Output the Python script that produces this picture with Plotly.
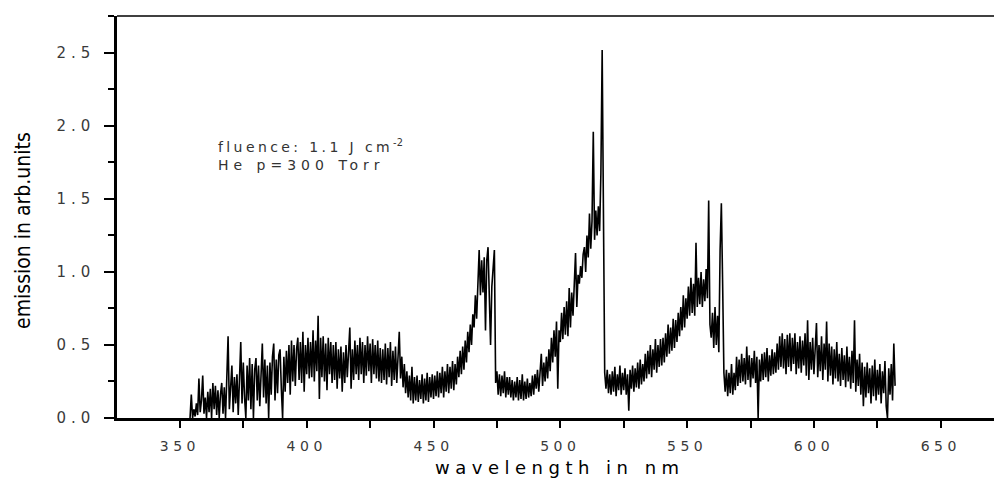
import numpy as np
import plotly.graph_objects as go

# ---- data (0.5 nm sampling, 354 .. 632 nm) ----
wavelength = list(np.round(np.arange(354.0, 632.01, 0.5), 1))
emission = [
    # 354.0 - 359.5
    0.00, 0.16, 0.00, 0.06, 0.01, 0.10, 0.02, 0.27, 0.04, 0.12, 0.29, 0.03,
    # 360 - 369.5
    0.14, 0.00, 0.18, 0.04, 0.20, 0.00, 0.24, 0.06, 0.22, 0.02,
    0.19, 0.00, 0.16, 0.24, 0.03, 0.21, 0.00, 0.26, 0.56, 0.06,
    # 370 - 379.5
    0.22, 0.36, 0.04, 0.28, 0.10, 0.30, 0.02, 0.26, 0.52, 0.10,
    0.38, 0.14, 0.00, 0.36, 0.12, 0.41, 0.06, 0.37, 0.00, 0.33,
    # 380 - 389.5
    0.41, 0.12, 0.36, 0.08, 0.34, 0.51, 0.14, 0.40, 0.10, 0.36,
    0.00, 0.38, 0.16, 0.42, 0.51, 0.12, 0.40, 0.17, 0.43, 0.47,
    # 390 - 399.5
    0.20, 0.00, 0.42, 0.18, 0.46, 0.24, 0.50, 0.16, 0.53, 0.25,
    0.50, 0.22, 0.47, 0.55, 0.26, 0.52, 0.24, 0.59, 0.18, 0.50,
    # 400 - 409.5
    0.30, 0.55, 0.27, 0.52, 0.28, 0.60, 0.25, 0.53, 0.32, 0.70,
    0.13, 0.55, 0.28, 0.56, 0.25, 0.51, 0.19, 0.55, 0.30, 0.52,
    # 410 - 419.5
    0.24, 0.50, 0.26, 0.52, 0.20, 0.47, 0.27, 0.49, 0.18, 0.45,
    0.24, 0.50, 0.28, 0.48, 0.62, 0.20, 0.47, 0.26, 0.53, 0.30,
    # 420 - 429.5
    0.50, 0.26, 0.55, 0.30, 0.52, 0.24, 0.50, 0.29, 0.56, 0.32,
    0.51, 0.24, 0.54, 0.30, 0.50, 0.27, 0.53, 0.25, 0.48, 0.24,
    # 430 - 439.5
    0.47, 0.26, 0.51, 0.23, 0.48, 0.28, 0.52, 0.22, 0.46, 0.26,
    0.49, 0.24, 0.45, 0.59, 0.27, 0.42, 0.21, 0.37, 0.17, 0.32,
    # 440 - 449.5
    0.14, 0.29, 0.12, 0.35, 0.10, 0.28, 0.12, 0.29, 0.11, 0.26,
    0.13, 0.30, 0.10, 0.27, 0.12, 0.31, 0.11, 0.28, 0.14, 0.30,
    # 450 - 459.5
    0.13, 0.29, 0.15, 0.32, 0.14, 0.31, 0.17, 0.35, 0.14, 0.32,
    0.18, 0.37, 0.17, 0.35, 0.20, 0.39, 0.19, 0.37, 0.23, 0.42,
    # 460 - 469.5
    0.28, 0.46, 0.30, 0.49, 0.33, 0.53, 0.38, 0.59, 0.45, 0.64,
    0.50, 0.71, 0.62, 0.84, 0.68, 0.88, 1.15, 0.84, 1.08, 0.86,
    # 470 - 479.5
    1.10, 0.60, 1.08, 1.17, 0.80, 0.50, 0.90, 1.00, 1.15, 0.24,
    0.32, 0.16, 0.30, 0.15, 0.29, 0.17, 0.32, 0.14, 0.28, 0.16,
    # 480 - 489.5
    0.28, 0.14, 0.26, 0.12, 0.25, 0.14, 0.28, 0.12, 0.26, 0.13,
    0.30, 0.12, 0.25, 0.13, 0.27, 0.14, 0.24, 0.15, 0.29, 0.16,
    # 490 - 499.5
    0.30, 0.20, 0.33, 0.18, 0.35, 0.44, 0.22, 0.38, 0.25, 0.42,
    0.27, 0.47, 0.32, 0.55, 0.38, 0.60, 0.42, 0.66, 0.20, 0.60,
    # 500 - 509.5
    0.52, 0.72, 0.54, 0.76, 0.57, 0.80, 0.56, 0.89, 0.62, 0.86,
    0.70, 0.94, 1.13, 0.76, 0.98, 0.92, 1.04, 0.96, 1.12, 1.17,
    # 510 - 519.5
    1.00, 1.25, 1.10, 1.40, 1.16, 1.35, 1.96, 1.22, 1.42, 1.25,
    1.45, 1.28, 1.68, 2.52, 1.40, 0.31, 0.20, 0.33, 0.17, 0.30,
    # 520 - 529.5
    0.16, 0.32, 0.18, 0.35, 0.15, 0.30, 0.19, 0.36, 0.16, 0.31,
    0.19, 0.34, 0.16, 0.30, 0.05, 0.33, 0.20, 0.36, 0.18, 0.34,
    # 530 - 539.5
    0.21, 0.38, 0.20, 0.40, 0.23, 0.37, 0.25, 0.44, 0.27, 0.46,
    0.30, 0.50, 0.28, 0.47, 0.33, 0.54, 0.31, 0.50, 0.35, 0.54,
    # 540 - 549.5
    0.36, 0.55, 0.38, 0.58, 0.42, 0.64, 0.44, 0.62, 0.46, 0.68,
    0.48, 0.67, 0.52, 0.72, 0.56, 0.76, 0.60, 0.84, 0.62, 0.82,
    # 550 - 559.5
    0.68, 0.90, 0.70, 0.96, 0.72, 0.92, 0.70, 1.20, 0.76, 0.96,
    0.78, 1.00, 0.76, 0.95, 0.80, 1.02, 0.82, 1.49, 0.64, 0.55,
    # 560 - 569.5
    0.72, 0.48, 0.76, 0.50, 0.70, 0.45, 1.15, 1.47, 0.92, 0.31,
    0.18, 0.33, 0.15, 0.31, 0.17, 0.37, 0.16, 0.31, 0.19, 0.42,
    # 570 - 579.5
    0.22, 0.40, 0.24, 0.44, 0.25, 0.41, 0.23, 0.49, 0.26, 0.43,
    0.21, 0.41, 0.27, 0.46, 0.24, 0.42, 0.00, 0.40, 0.25, 0.44,
    # 580 - 589.5
    0.26, 0.45, 0.28, 0.48, 0.25, 0.43, 0.29, 0.47, 0.30, 0.45,
    0.31, 0.51, 0.33, 0.56, 0.35, 0.58, 0.34, 0.54, 0.30, 0.57,
    # 590 - 599.5
    0.35, 0.58, 0.32, 0.55, 0.37, 0.58, 0.30, 0.52, 0.34, 0.56,
    0.31, 0.53, 0.36, 0.58, 0.29, 0.67, 0.26, 0.52, 0.33, 0.55,
    # 600 - 609.5
    0.30, 0.53, 0.65, 0.28, 0.50, 0.32, 0.56, 0.26, 0.51, 0.33,
    0.66, 0.25, 0.51, 0.29, 0.49, 0.23, 0.47, 0.27, 0.52, 0.25,
    # 610 - 619.5
    0.44, 0.22, 0.48, 0.26, 0.43, 0.21, 0.49, 0.25, 0.42, 0.20,
    0.46, 0.24, 0.67, 0.18, 0.40, 0.22, 0.44, 0.16, 0.38, 0.08,
    # 620 - 629.5
    0.35, 0.14, 0.38, 0.17, 0.34, 0.10, 0.36, 0.15, 0.40, 0.12,
    0.33, 0.16, 0.37, 0.10, 0.32, 0.17, 0.39, 0.08, 0.00, 0.34,
    # 630 - 632
    0.16, 0.37, 0.12, 0.51, 0.22,
]

x_ticks = [350, 400, 450, 500, 550, 600, 650]
x_tick_labels = ["350", "400", "450", "500", "550", "600", "650"]
y_ticks = [0.0, 0.5, 1.0, 1.5, 2.0, 2.5]
y_tick_labels = ["0.0", "0.5", "1.0", "1.5", "2.0", "2.5"]

x_title = "wavelength in nm"
y_title = "emission in arb.units"
note_line1 = "fluence: 1.1 J cm"
note_sup = "-2"
note_line2 = "He p=300 Torr"


def wide(s, ls=4.5):
    return '<span style="letter-spacing:%spx">%s</span>' % (ls, s)


X_LABEL_FONT = dict(family="DejaVu Sans, Arial, sans-serif", size=14, color="#3a3a3a")
Y_LABEL_FONT = dict(family="DejaVu Sans, Arial, sans-serif", size=15, color="#3a3a3a")

fig = go.Figure()
fig.add_trace(go.Scatter(
    x=wavelength, y=emission, mode="lines",
    line=dict(color="black", width=1.6),
    showlegend=False, hoverinfo="skip",
))

fig.update_layout(
    width=994, height=482,
    margin=dict(l=117, r=0, t=16, b=64),
    paper_bgcolor="white", plot_bgcolor="white",
    showlegend=False,
)

fig.update_xaxes(
    range=[325.2, 671], showgrid=False, zeroline=False,
    showline=True, linecolor="black", linewidth=2.5,
    ticks="outside", ticklen=7, tickwidth=2, tickcolor="black",
    tickmode="array", tickvals=x_ticks,
    ticktext=[wide(t) for t in x_tick_labels],
    tickfont=X_LABEL_FONT, ticklabelstandoff=6,
    minor=dict(tickmode="linear", tick0=325, dtick=25, ticks="outside",
               ticklen=7, tickwidth=2, tickcolor="black", showgrid=False),
)
fig.update_yaxes(
    range=[0, 2.753], showgrid=False, zeroline=False,
    showline=True, linecolor="black", linewidth=2.5,
    ticks="outside", ticklen=10, tickwidth=1.5, tickcolor="black",
    tickmode="array", tickvals=y_ticks,
    ticktext=[wide(t, 5) for t in y_tick_labels],
    tickfont=Y_LABEL_FONT, ticklabelstandoff=6,
    minor=dict(tickmode="linear", tick0=0, dtick=0.25, ticks="outside",
               ticklen=6, tickwidth=1.5, tickcolor="black", showgrid=False),
)

# top frame line
fig.add_shape(type="line", xref="paper", yref="paper", x0=0, x1=1, y0=1, y1=1,
              line=dict(color="black", width=1.5))

# axis titles
fig.add_annotation(
    xref="paper", yref="paper", x=0.505, y=-0.124,
    xanchor="center", yanchor="middle", showarrow=False,
    text=wide(x_title, 5.5),
    font=dict(family="DejaVu Sans, Arial, sans-serif", size=18, color="black"),
)
fig.add_annotation(
    xref="paper", yref="paper", x=-0.1072, y=0.4677,
    xanchor="center", yanchor="middle", showarrow=False, textangle=-90,
    text=y_title,
    font=dict(family="Liberation Sans Narrow, DejaVu Sans Condensed, Arial Narrow, Liberation Sans, sans-serif",
              size=21, color="black"),
)

# in-plot note (two lines)
fig.add_annotation(
    xref="paper", yref="paper", x=0.113, y=0.655,
    xanchor="left", yanchor="middle", showarrow=False, align="left",
    text=wide(note_line1, 3.4) + "<sup>" + note_sup + "</sup><br>" + wide(note_line2, 5),
    font=dict(family="DejaVu Sans, Arial, sans-serif", size=14, color="#333333"),
)

fig.write_html("out.html", config={"displayModeBar": False},
               post_script="document.body.style.margin='0';")
